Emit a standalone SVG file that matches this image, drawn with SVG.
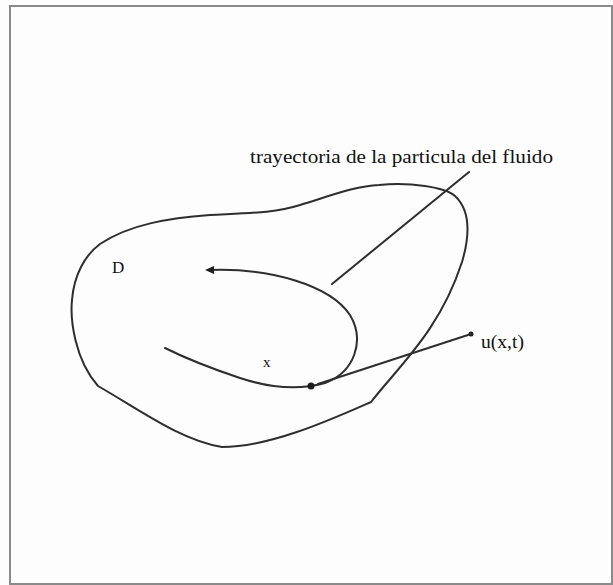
<svg xmlns="http://www.w3.org/2000/svg" width="613" height="585" viewBox="0 0 613 585">
<style>
.ln{fill:none;stroke:#2e2e2e;stroke-width:2;stroke-linecap:round;stroke-linejoin:round}
.tx{font-family:"Liberation Serif","Times New Roman",serif;fill:#111}
.dot{fill:#1e1e1e}
</style>
<rect x="0" y="0" width="613" height="585" fill="#fdfdfd"/>
<rect x="10" y="6" width="602" height="578" fill="none" stroke="#8a8a8a" stroke-width="2"/>
<g id="region-D">
<path class="ln" d="M 379,185 C 410,182 445,187 455,196 C 470,210 470,235 462,262 C 440,330 400,365 371,402 C 330,420 270,447 222,447 C 180,440 140,410 98,386 C 75,360 70,320 72,300 C 74,275 85,255 100,244 C 130,224 170,218 210,215 C 250,213 275,213 300,205 C 330,196 355,186 379,185 Z"/>
<text class="tx" x="112" y="273" font-size="17">D</text>
</g>
<g id="trajectory">
<path class="ln" d="M 211,270 C 270,268 330,285 350,315 C 365,340 355,372 325,383 C 300,390 270,388 240,378 C 210,368 185,358 165,348"/>
<polygon class="dot" points="205,270 214,266 214,274"/>
<circle class="dot" cx="311" cy="386" r="3.5"/>
<text class="tx" x="263" y="367" font-size="15">x</text>
</g>
<g id="label-trayectoria">
<text class="tx" x="250" y="163" font-size="19" textLength="303" lengthAdjust="spacingAndGlyphs">trayectoria de la particula del fluido</text>
</g>
<g id="label-u">
<text class="tx" x="481" y="348" font-size="19" textLength="43" lengthAdjust="spacingAndGlyphs">u(x,t)</text>
<circle class="dot" cx="471" cy="334" r="2.5"/>
</g>
<g id="connectors">
<line class="ln" x1="469" y1="172" x2="332" y2="284"/>
<line class="ln" x1="318" y1="384" x2="471" y2="334"/>
</g>
</svg>
